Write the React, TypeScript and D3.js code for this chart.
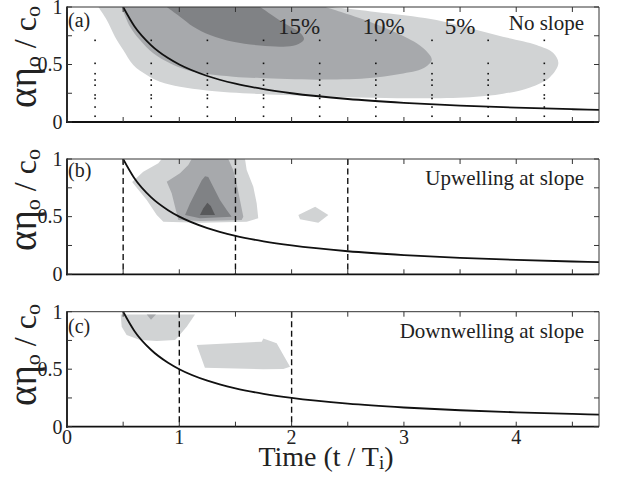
import React from "react";
import * as d3 from "d3";

// ---------- data ----------
const xTickLabels = [0, 1, 2, 3, 4];
const yTickLabels = [0, 0.5, 1];
const xMinorTicks = [0, 0.5, 1, 1.5, 2, 2.5, 3, 3.5, 4, 4.5];
const yMinorTicks = [0, 0.25, 0.5, 0.75, 1];

// theoretical curve
const curveT = [0.5, 0.6, 0.75, 0.9, 1, 1.25, 1.5, 1.75, 2, 2.5, 3, 3.5, 4, 4.5, 4.74];
const curveV = [1, 0.833, 0.667, 0.556, 0.5, 0.4, 0.333, 0.286, 0.25, 0.2, 0.167, 0.143, 0.125, 0.111, 0.105];

// panel (a) contour regions [t, v]
const aLight: [number, number][] = [
  [0.279, 1.0], [0.354, 0.887], [0.427, 0.742], [0.501, 0.626], [0.59, 0.496], [0.71, 0.409],
  [0.828, 0.35], [1.006, 0.307], [1.244, 0.275], [1.72, 0.243], [2.3, 0.222], [3.143, 0.206],
  [3.589, 0.215], [3.883, 0.245], [4.123, 0.3], [4.3, 0.39], [4.375, 0.51], [4.33, 0.6],
  [4.18, 0.67], [3.88, 0.742], [3.59, 0.815], [3.29, 0.887], [2.85, 0.945], [2.36, 1.0],
];
const aMedium: [number, number][] = [
  [0.487, 1.0], [0.561, 0.829], [0.65, 0.713], [0.768, 0.597], [0.917, 0.51], [1.066, 0.452],
  [1.244, 0.417], [1.48, 0.394], [1.72, 0.382], [2.224, 0.368], [2.669, 0.38], [2.965, 0.417],
  [3.173, 0.467], [3.248, 0.539], [3.217, 0.597], [3.114, 0.684], [2.876, 0.8], [2.609, 0.902],
  [2.3, 1.0],
];
const aDark: [number, number][] = [
  [0.888, 1.0], [1.006, 0.916], [1.125, 0.829], [1.273, 0.757], [1.48, 0.698], [1.72, 0.665],
  [1.926, 0.655], [2.04, 0.67], [2.11, 0.72], [2.07, 0.78], [1.95, 0.85], [1.81, 0.94], [1.72, 1.0],
];
const aDotX = [0.25, 0.75, 1.25, 1.75, 2.25, 2.75, 3.25, 3.75, 4.25];
const aDotV = [0.05, 0.13, 0.205, 0.235, 0.32, 0.365, 0.42, 0.51, 0.71];
const aLabels = [
  { text: "15%", t: 2.066 },
  { text: "10%", t: 2.82 },
  { text: "5%", t: 3.5 },
];

// panel (b)
const bLight: [number, number][] = [
  [0.58, 0.8], [0.679, 0.89], [0.813, 0.963], [0.843, 1.0], [1.585, 1.0], [1.6, 0.905],
  [1.659, 0.76], [1.689, 0.616], [1.703, 0.486], [1.6, 0.456], [1.184, 0.448], [0.858, 0.456],
  [0.799, 0.514], [0.71, 0.644], [0.63, 0.74],
];
const bLight2: [number, number][] = [[2.06, 0.514], [2.21, 0.586], [2.327, 0.514], [2.238, 0.448], [2.075, 0.477]];
const bMedium: [number, number][] = [
  [0.888, 0.803], [1.006, 0.876], [1.08, 0.948], [1.11, 1.0], [1.436, 1.0], [1.48, 0.905],
  [1.51, 0.789], [1.54, 0.644], [1.57, 0.5], [1.555, 0.471], [1.184, 0.462], [0.991, 0.471],
  [0.962, 0.586], [0.932, 0.703],
];
const bDark: [number, number][] = [
  [1.051, 0.514], [1.095, 0.613], [1.155, 0.729], [1.2, 0.816], [1.229, 0.85], [1.258, 0.844],
  [1.303, 0.758], [1.362, 0.644], [1.422, 0.558], [1.466, 0.5], [1.184, 0.486],
];
const bDarkest: [number, number][] = [[1.184, 0.514], [1.214, 0.572], [1.25, 0.621], [1.28, 0.592], [1.318, 0.514]];
const bDashed = [0.5, 1.5, 2.5];

// panel (c)
const cLight1: [number, number][] = [
  [0.478, 0.975], [1.14, 0.975], [1.066, 0.87], [0.99, 0.783], [0.962, 0.754], [0.799, 0.746],
  [0.65, 0.754], [0.531, 0.797], [0.487, 0.87],
];
const cMedium1: [number, number][] = [[0.71, 0.975], [0.792, 0.975], [0.748, 0.93]];
const cLight2: [number, number][] = [
  [1.155, 0.71], [1.734, 0.739], [1.748, 0.768], [1.867, 0.725], [1.986, 0.522], [1.926, 0.502],
  [1.748, 0.499], [1.228, 0.513],
];
const cDashed = [1, 2];

// ---------- styles ----------
const C_LIGHT = "#d1d3d4";
const C_MED = "#a7a9ac";
const C_DARK = "#808285";
const C_DARKEST = "#58595b";
const FONT = "Liberation Serif";

const W = 618;
const H = 477;
const X0 = 67;
const X1 = 599;
const T_MAX = 4.737;

const panels = [
  { key: "a", top: 7, bottom: 122, label: "(a)", title: "No slope", labelDy: 20, titleDy: 23, yLabelStart: 108 },
  { key: "b", top: 159, bottom: 274.3, label: "(b)", title: "Upwelling at slope", labelDy: 18, titleDy: 26, yLabelStart: 251 },
  { key: "c", top: 311.7, bottom: 426.7, label: "(c)", title: "Downwelling at slope", labelDy: 21, titleDy: 26, yLabelStart: 406 },
];

const txt = { fontFamily: FONT };

export default function App() {
  const x = d3.scaleLinear().domain([0, T_MAX]).range([X0, X1]);

  return (
    <svg width={W} height={H} style={{ position: "absolute", left: 0, top: 0, background: "#fff" }}>
      <rect x={0} y={0} width={W} height={H} fill="#fff" />
      <defs>
        {panels.map((p) => (
          <clipPath id={`clip-${p.key}`} key={p.key}>
            <rect x={X0} y={p.top} width={X1 - X0} height={p.bottom - p.top} />
          </clipPath>
        ))}
      </defs>
      {panels.map((p) => {
        const y = d3.scaleLinear().domain([0, 1]).range([p.bottom, p.top]);
        const smooth = d3
          .line<[number, number]>()
          .x((d) => x(d[0]))
          .y((d) => y(d[1]))
          .curve(d3.curveCatmullRom.alpha(0.5));
        const poly = d3
          .line<[number, number]>()
          .x((d) => x(d[0]))
          .y((d) => y(d[1]));
        const smoothArea = (pts: [number, number][]) => (smooth(pts) || "") + "Z";
        const polyArea = (pts: [number, number][]) => (poly(pts) || "") + "Z";
        const curvePts: [number, number][] = curveT.map((t, i) => [t, curveV[i]]);
        const curvePath =
          d3
            .line<[number, number]>()
            .x((d) => x(d[0]))
            .y((d) => y(d[1]))
            .curve(d3.curveMonotoneX)(curvePts) || "";

        return (
          <g key={p.key}>
            <g clipPath={`url(#clip-${p.key})`}>
              {p.key === "a" && (
                <>
                  <path d={smoothArea(aLight)} fill={C_LIGHT} />
                  <path d={smoothArea(aMedium)} fill={C_MED} />
                  <path d={smoothArea(aDark)} fill={C_DARK} />
                  {aDotX.map((t) =>
                    aDotV.map((v) => (
                      <rect key={`${t}-${v}`} x={x(t) - 0.8} y={y(v) - 0.8} width={1.6} height={1.6} fill="#111" />
                    ))
                  )}
                </>
              )}
              {p.key === "b" && (
                <>
                  <path d={polyArea(bLight)} fill={C_LIGHT} />
                  <path d={polyArea(bLight2)} fill={C_LIGHT} />
                  <path d={polyArea(bMedium)} fill={C_MED} />
                  <path d={polyArea(bDark)} fill={C_DARK} />
                  <path d={polyArea(bDarkest)} fill={C_DARKEST} />
                  {bDashed.map((t) => (
                    <line key={t} x1={x(t)} x2={x(t)} y1={p.top} y2={p.bottom} stroke="#111" strokeWidth={1.4} strokeDasharray="6,3.5" />
                  ))}
                </>
              )}
              {p.key === "c" && (
                <>
                  <path d={polyArea(cLight1)} fill={C_LIGHT} />
                  <path d={polyArea(cMedium1)} fill={C_MED} />
                  <path d={polyArea(cLight2)} fill={C_LIGHT} />
                  {cDashed.map((t) => (
                    <line key={t} x1={x(t)} x2={x(t)} y1={p.top} y2={p.bottom} stroke="#111" strokeWidth={1.4} strokeDasharray="6,3.5" />
                  ))}
                </>
              )}
              <path d={curvePath} fill="none" stroke="#111" strokeWidth={1.8} />
            </g>

            {/* frame */}
            <line x1={X0} x2={X1} y1={p.top} y2={p.top} stroke="#333" strokeWidth={1} />
            <line x1={X1} x2={X1} y1={p.top} y2={p.bottom} stroke="#333" strokeWidth={1} />
            <line x1={X0} x2={X0} y1={p.top - 0.5} y2={p.bottom + 1} stroke="#111" strokeWidth={1.8} />
            <line x1={X0 - 0.9} x2={X1} y1={p.bottom} y2={p.bottom} stroke="#111" strokeWidth={1.8} />

            {/* x ticks (inward, top and bottom) */}
            {xMinorTicks.map((t) => (
              <g key={`xt${t}`}>
                <line x1={x(t)} x2={x(t)} y1={p.bottom} y2={p.bottom - 5} stroke="#333" strokeWidth={1} />
                <line x1={x(t)} x2={x(t)} y1={p.top} y2={p.top + 5} stroke="#333" strokeWidth={1} />
              </g>
            ))}
            {/* y ticks */}
            {yMinorTicks.map((v) => (
              <g key={`yt${v}`}>
                <line x1={X0} x2={X0 + 5} y1={y(v)} y2={y(v)} stroke="#333" strokeWidth={1} />
                <line x1={X1} x2={X1 - 5} y1={y(v)} y2={y(v)} stroke="#333" strokeWidth={1} />
              </g>
            ))}
            {yTickLabels.map((v) => (
              <text key={`yl${v}`} x={62.5} y={y(v)} dy="0.34em" textAnchor="end" fontSize={20} fill="#222" style={txt}>
                {v}
              </text>
            ))}

            {/* labels */}
            <text x={68} y={p.top + p.labelDy} fontSize={20} fill="#222" style={txt}>
              {p.label}
            </text>
            <text x={584} y={p.top + p.titleDy} textAnchor="end" fontSize={21} fill="#222" style={txt}>
              {p.title}
            </text>
            {p.key === "a" &&
              aLabels.map((l) => (
                <text key={l.text} x={x(l.t)} y={34} textAnchor="middle" fontSize={23} fill="#222" style={txt}>
                  {l.text}
                </text>
              ))}

            {/* y label */}
            <text transform={`translate(36,${p.yLabelStart}) rotate(-90)`} fill="#222" style={txt}>
              <tspan fontSize={39}>αη</tspan>
              <tspan fontSize={22} dy={4}>o</tspan>
              <tspan fontSize={32} dy={-4}> / c</tspan>
              <tspan fontSize={22} dy={4}>o</tspan>
            </text>

            {p.key === "c" &&
              xTickLabels.map((t) => (
                <text key={`xl${t}`} x={x(t)} y={444} textAnchor="middle" fontSize={20} fill="#222" style={txt}>
                  {t}
                </text>
              ))}
          </g>
        );
      })}
      <text x={326} y={466} textAnchor="middle" fontSize={28} fill="#222" style={txt}>
        Time (t / T
        <tspan fontSize={19} dy={3}>i</tspan>
        <tspan dy={-3}>)</tspan>
      </text>
    </svg>
  );
}
